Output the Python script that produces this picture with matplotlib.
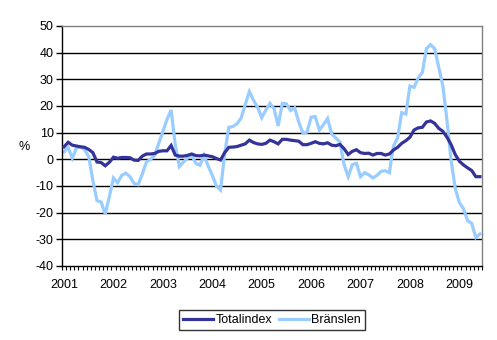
import matplotlib
matplotlib.use("Agg")
import matplotlib.pyplot as plt
import numpy as np

plt.rcParams['font.family'] = ['Liberation Sans', 'DejaVu Sans']
plt.rcParams['axes.unicode_minus'] = False

# Monthly annual change (%), January 2001 - June 2009
totalindex = [
    4.7, 6.4, 5.3, 5.0, 4.7, 4.5, 3.7, 2.5, -1.0, -1.2, -2.4, -1.1,
    0.8, 0.4, 0.7, 0.7, 0.6, -0.3, -0.4, 1.2, 2.0, 2.0, 2.2, 3.0,
    3.2, 3.2, 5.2, 1.6, 1.2, 1.2, 1.5, 2.0, 1.4, 1.3, 1.6, 1.3,
    1.0, 0.3, -0.25, 2.5, 4.5, 4.6, 4.8, 5.3, 5.8, 7.2, 6.3, 5.8,
    5.6, 6.0, 7.2, 6.6, 5.8, 7.5, 7.5, 7.2, 7.0, 6.8, 5.5, 5.5,
    6.0, 6.6, 6.0, 5.8, 6.2, 5.3, 5.1, 5.6, 4.0, 1.8, 3.0, 3.6,
    2.5, 2.2, 2.3, 1.6, 2.2, 2.2, 1.6, 2.0, 3.5, 4.5, 6.0, 7.0,
    8.3, 11.0, 11.8, 12.0, 14.0, 14.4, 13.5, 11.6, 10.5, 8.3, 5.5, 1.8,
    -0.7, -2.1, -3.2, -4.2, -6.5, -6.5,
]
branslen = [
    2.8, 4.4, 0.4, 4.3, 4.7, 3.6, 1.0, -8.0, -15.5, -16.0, -20.5, -14.0,
    -7.0, -8.8, -6.0, -5.2, -6.5, -9.0, -9.5, -5.5, -1.0, 0.0, 1.5, 6.0,
    10.5, 15.0, 18.5, 5.5, -2.7, -1.0, 0.5, 1.6, -1.5, -2.2, 1.5, -2.5,
    -6.0, -10.0, -11.5, 2.0, 12.0, 12.3, 13.3, 15.5, 20.5, 25.4, 22.2, 19.5,
    15.6, 18.5, 21.0, 19.0, 12.5, 21.0, 20.8, 18.3, 19.3, 14.0, 9.8, 10.2,
    15.8, 16.0, 11.0, 13.0, 15.3, 9.5, 8.0, 6.5, -2.0, -6.5, -2.0, -1.5,
    -6.5, -5.0, -5.8, -7.0, -6.0, -4.5, -4.3, -5.0, 5.0, 8.0, 17.5, 17.0,
    27.5, 27.0, 30.5, 32.5, 41.5, 43.0, 41.5, 34.5, 27.5, 14.5, -0.5, -10.9,
    -16.2, -18.5, -23.0, -24.0, -29.3, -28.0,
]
years = ["2001", "2002", "2003", "2004", "2005", "2006", "2007", "2008", "2009"]
series_names = ["Totalindex", "Bränslen"]
colors = ["#333399", "#99CCFF"]

n = len(totalindex)
x = np.arange(n)

fig = plt.figure(figsize=(4.97, 3.40), dpi=100)
ax = fig.add_axes([62 / 497, 74 / 340, 420 / 497, 240 / 340])

ax.set_ylim(-40, 50)
ax.set_xlim(-0.5, n - 0.5)

# horizontal grid
for yv in range(-30, 50, 10):
    ax.axhline(yv, color="black", lw=1.0, zorder=1)

ax.plot(x, totalindex, color=colors[0], lw=2.3, label=series_names[0],
        zorder=3, solid_joinstyle="miter")
ax.plot(x, branslen, color=colors[1], lw=2.3, label=series_names[1],
        zorder=2, solid_joinstyle="miter")

# axes frame
for side in ("top", "right"):
    ax.spines[side].set_color("#808080")
    ax.spines[side].set_linewidth(1.0)
for side in ("left", "bottom"):
    ax.spines[side].set_color("black")
    ax.spines[side].set_linewidth(1.0)

ax.set_yticks(range(-40, 51, 10))
ax.tick_params(axis="y", length=4, width=1, labelsize=9, pad=2, direction="out")

ax.set_xticks(np.arange(0, n, 12))
ax.set_xticklabels(years)
ax.set_xticks(np.arange(-0.5, n, 1), minor=True)
ax.tick_params(axis="x", which="major", length=0, labelsize=9, pad=9)
ax.tick_params(axis="x", which="minor", length=3, width=0.8, direction="out")

fig.text(24 / 497, 1 - 147 / 340, "%", fontsize=9, ha="center", va="center")

leg = fig.legend(loc="center", bbox_to_anchor=(272 / 497, 1 - 320 / 340),
                 ncol=2, fontsize=9, frameon=True, fancybox=False,
                 edgecolor="black", handlelength=2.4, handletextpad=0.2,
                 columnspacing=0.5, borderpad=0.3, borderaxespad=0)
leg.get_frame().set_linewidth(1.0)

fig.savefig("out.png", dpi=100)
